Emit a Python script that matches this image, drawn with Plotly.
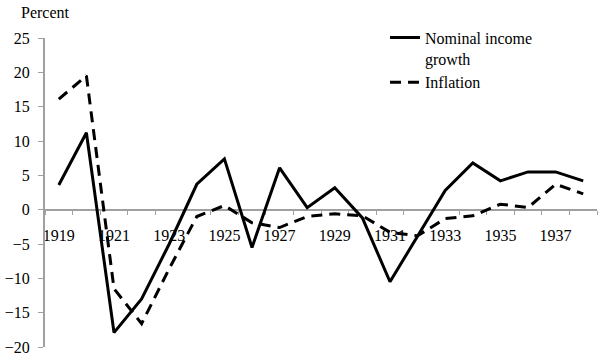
import plotly.graph_objects as go

years = list(range(1919, 1939))
nominal_income_growth = [3.6, 11.2, -17.9, -13.0, -5.0, 3.7, 7.4, -5.5, 6.1, 0.3,
                         3.2, -1.2, -10.5, -3.8, 2.8, 6.8, 4.2, 5.5, 5.5, 4.2]
inflation = [16.1, 19.5, -11.5, -16.6, -8.6, -1.0, 0.6, -1.9, -2.6, -1.0,
             -0.6, -0.9, -3.3, -3.8, -1.3, -0.9, 0.8, 0.3, 3.7, 2.3]
label_years = [y for y in years if (y - 1919) % 2 == 0 and y < 1938]
y_ticks = [-20, -15, -10, -5, 0, 5, 10, 15, 20, 25]

FONT = "Times New Roman"
AX = "#a0a0a0"

fig = go.Figure()
fig.add_trace(go.Scatter(x=years, y=nominal_income_growth, mode="lines",
                         name="Nominal income<br>growth",
                         line=dict(color="black", width=3)))
fig.add_trace(go.Scatter(x=years, y=inflation, mode="lines", name="Inflation",
                         line=dict(color="black", width=3, dash="11px,7px")))

fig.update_layout(
    width=600, height=361,
    margin=dict(l=45, r=3, t=38, b=14),
    paper_bgcolor="white", plot_bgcolor="white",
    font=dict(family=FONT, size=16, color="black"),
    showlegend=True,
    legend=dict(x=0.616, xanchor="left", y=1.056, yanchor="top",
                bgcolor="rgba(0,0,0,0)", valign="top",
                font=dict(family=FONT, size=16), tracegroupgap=4),
    xaxis=dict(
        range=[1918.5, 1938.5], showgrid=False, zeroline=False,
        tickmode="array", tickvals=label_years,
        ticktext=[str(y) for y in label_years],
        ticks="", ticklabelstandoff=11,
        minor=dict(tickmode="linear", tick0=1918.5, dtick=1, ticks="outside",
                   ticklen=4, tickcolor=AX, tickwidth=1),
        showline=True, linecolor=AX, linewidth=2,
        anchor="free", position=20 / 45, layer="below traces",
        tickfont=dict(family=FONT, size=16),
    ),
    yaxis=dict(
        range=[-20, 25], showgrid=False, zeroline=False,
        tickmode="array", tickvals=y_ticks,
        ticks="outside", ticklen=5, tickcolor=AX, tickwidth=1,
        showline=True, linecolor=AX, linewidth=2,
        ticklabelstandoff=5,
        tickfont=dict(family=FONT, size=16),
    ),
    annotations=[dict(text="Percent", xref="paper", yref="paper",
                      x=-0.047, y=1.084, xanchor="left", yanchor="middle",
                      showarrow=False, font=dict(family=FONT, size=16))],
)

fig.write_html("out.html", config={"displayModeBar": False},
               post_script="document.body.style.margin='0';document.body.style.overflow='hidden';")
